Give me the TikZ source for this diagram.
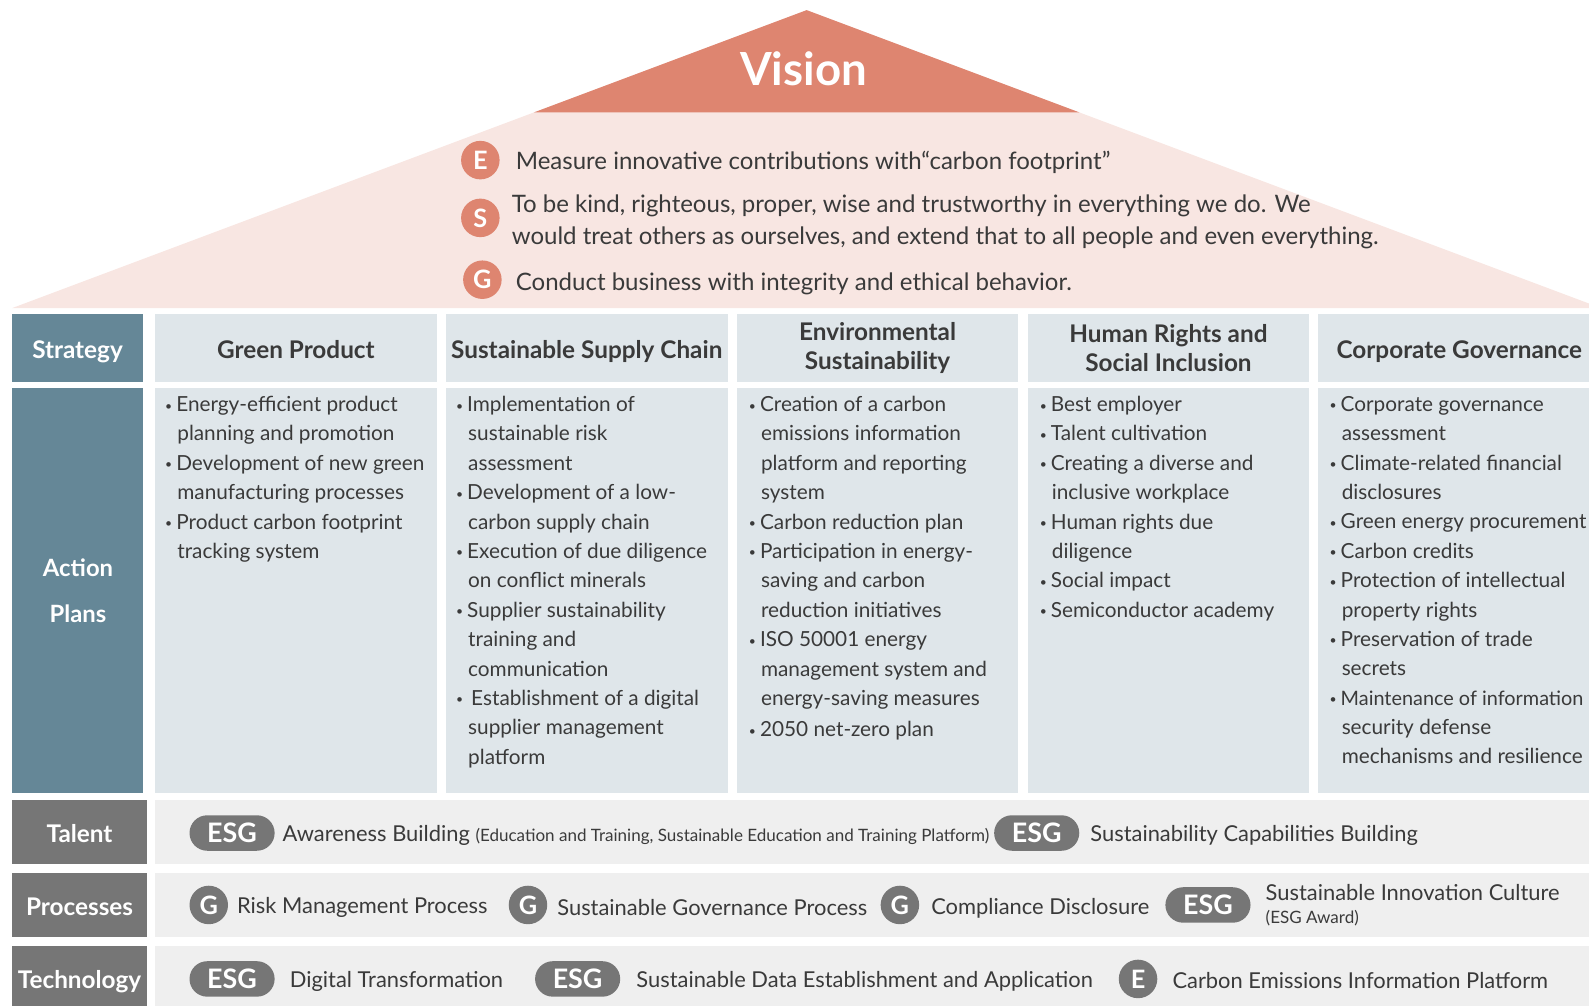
\documentclass[tikz,border=0pt]{standalone}
\usepackage{fontspec}
\setmainfont{Lato}
\definecolor{salmon}{HTML}{DE8570}
\definecolor{blush}{HTML}{F8E6E2}
\definecolor{slate}{HTML}{658797}
\definecolor{mist}{HTML}{DFE6EA}
\definecolor{ash}{HTML}{767676}
\definecolor{band}{HTML}{EFEFEF}
\definecolor{ink}{HTML}{3A3A3A}
\newcommand\bu{\makebox[11pt][l]{\raisebox{1.5pt}{\fontsize{12}{12}\selectfont\textbullet}}}
\newcommand\hi{\hspace*{12pt}}
\newcommand\notefont{\fontsize{16.8}{19}\selectfont}
\begin{document}
\begin{tikzpicture}[x=1pt,y=-1pt,
  every node/.style={inner sep=0pt, outer sep=0pt},
  labelbox/.style={anchor=north west, text=white, align=center,
    text height=20pt, text depth=0pt,
    font=\bfseries\fontsize{24}{28}\selectfont},
  headbox/.style={anchor=north west, fill=mist, minimum width=278, minimum height=67,
    text=ink, align=center, font=\bfseries\fontsize{24}{28}\selectfont},
  oneline/.style={text height=20pt, text depth=0pt},
  planbox/.style={anchor=north west, fill=mist, minimum width=278, minimum height=400},
  plantext/.style={anchor=north west, align=left, text=ink,
    font=\fontsize{20.5}{29}\selectfont},
  bandbox/.style={anchor=north west, fill=band, minimum width=1430},
  visiontext/.style={anchor=west, align=left, text=ink, font=\fontsize{23.7}{32}\selectfont},
  vcirc/.style={circle, fill=salmon, text=white, minimum size=38,
    font=\bfseries\fontsize{25}{25}\selectfont},
  gcirc/.style={circle, fill=ash, text=white, minimum size=38,
    font=\bfseries\fontsize{25}{25}\selectfont},
  pill/.style={fill=ash, text=white, rounded corners=17.5, minimum width=84,
    minimum height=35, font=\bfseries\fontsize{26.5}{26.5}\selectfont},
  rowtext/.style={anchor=west, text=ink, font=\fontsize{21.6}{25}\selectfont}
]
\useasboundingbox (0,0) rectangle (1568,992);
\clip (0,0) rectangle (1568,992);

% roof
\fill[blush] (796,10) -- (1580,304) -- (12,304) -- cycle;
\fill[salmon] (796,10) -- (1065.3,111) -- (526.7,111) -- cycle;
\node[text=white, font=\bfseries\fontsize{45}{45}\selectfont] (vision) at (793,68) {Vision};

\node[vcirc] (ce) at (474,158) {E};
\node[visiontext] (te) at (509,160) {Measure innovative contributions with“carbon footprint”};
\node[vcirc] (cs) at (474,215) {S};
\node[visiontext] (ts) at (505,219) {To be kind, righteous, proper, wise and trustworthy in everything we do. We\\
would treat others as ourselves, and extend that to all people and even everything.};
\node[vcirc] (cg) at (476,276) {G};
\node[visiontext] (tg) at (509,280) {Conduct business with integrity and ethical behavior.};

% strategy row
\node[labelbox, fill=slate, minimum width=129, minimum height=67] (strategy) at (12,310) {Strategy};
\node[headbox, oneline] (h1) at (153,310) {Green Product};
\node[headbox, oneline] (h2) at (440,310) {Sustainable Supply Chain};
\node[headbox] (h3) at (727,310) {Environmental\\Sustainability};
\node[headbox] (h4) at (1014,310) {Human Rights and\\Social Inclusion};
\node[headbox, oneline] (h5) at (1301,310) {Corporate Governance};

% action plans row
\node[labelbox, fill=slate, minimum width=129, minimum height=400] (actbox) at (12,383) {};
\node[text=white, align=center, font=\bfseries\fontsize{23.5}{45}\selectfont] (actlabel) at (77,583) {Action\\Plans};
\node[planbox] (a1) at (153,383) {};
\node[planbox] (a2) at (440,383) {};
\node[planbox] (a3) at (727,383) {};
\node[planbox] (a4) at (1014,383) {};
\node[planbox] (a5) at (1301,383) {};

\node[plantext] (p1) at (163,391) {\bu Energy-efficient product\\ \hi planning and promotion\\
\bu Development of new green\\ \hi manufacturing processes\\
\bu Product carbon footprint\\ \hi tracking system};
\node[plantext] (p2) at (450,391) {\bu Implementation of\\ \hi sustainable risk\\ \hi assessment\\
\bu Development of a low-\\ \hi carbon supply chain\\
\bu Execution of due diligence\\ \hi on conflict minerals\\
\bu Supplier sustainability\\ \hi training and\\ \hi communication\\
\bu\hspace*{4pt}Establishment of a digital\\ \hi supplier management\\ \hi platform};
\node[plantext] (p3) at (739,391) {\bu Creation of a carbon\\ \hi emissions information\\ \hi platform and reporting\\ \hi system\\
\bu Carbon reduction plan\\
\bu Participation in energy-\\ \hi saving and carbon\\ \hi reduction initiatives\\
\bu ISO 50001 energy\\ \hi management system and\\ \hi energy-saving measures\\[2pt]
\bu 2050 net-zero plan};
\node[plantext] (p4) at (1026,391) {\bu Best employer\\
\bu Talent cultivation\\
\bu Creating a diverse and\\ \hi inclusive workplace\\
\bu Human rights due\\ \hi diligence\\
\bu Social impact\\
\bu Semiconductor academy};
\node[plantext] (p5) at (1312,391) {\bu Corporate governance\\ \hi assessment\\
\bu Climate-related financial\\ \hi disclosures\\
\bu Green energy procurement\\
\bu Carbon credits\\
\bu Protection of intellectual\\ \hi property rights\\
\bu Preservation of trade\\ \hi secrets\\
\bu {\fontsize{19.6}{29}\selectfont Maintenance of information}\\ \hi security defense\\ \hi mechanisms and resilience};

% talent row
\node[labelbox, fill=ash, minimum width=133, minimum height=64] (talent) at (12,789) {Talent};
\node[bandbox, minimum height=64] (tband) at (153,789) {};
\node[pill] (t1) at (229,822) {ESG};
\node[rowtext] (t1txt) at (279,824) {Awareness Building {\notefont (Education and Training, Sustainable Education and Training Platform)}};
\node[pill] (t2) at (1023,822) {ESG};
\node[rowtext] (t2txt) at (1076,824) {Sustainability Capabilities Building};

% processes row
\node[labelbox, fill=ash, minimum width=133, minimum height=64] (processes) at (12,861) {Processes};
\node[bandbox, minimum height=64] (pband) at (153,861) {};
\node[gcirc] (g1) at (206,893) {G};
\node[rowtext] (g1txt) at (234,895) {Risk Management Process};
\node[gcirc] (g2) at (521,893) {G};
\node[rowtext] (g2txt) at (550,896) {Sustainable Governance Process};
\node[gcirc] (g3) at (888,893) {G};
\node[rowtext] (g3txt) at (919,896) {Compliance Disclosure};
\node[pill] (g4) at (1192,893) {ESG};
\node[rowtext, align=left, font=\fontsize{21.6}{23}\selectfont] (g4txt) at (1249,893) {Sustainable Innovation Culture\\{\notefont (ESG Award)}};

% technology row
\node[labelbox, fill=ash, minimum width=133, minimum height=64] (technology) at (12,933) {Technology};
\node[bandbox, minimum height=64] (xband) at (153,933) {};
\node[pill] (x1) at (229,966) {ESG};
\node[rowtext] (x1txt) at (286,968) {Digital Transformation};
\node[pill] (x2) at (570,966) {ESG};
\node[rowtext] (x2txt) at (628,968) {Sustainable Data Establishment and Application};
\node[gcirc] (x3) at (1123,966) {E};
\node[rowtext] (x3txt) at (1157,968) {Carbon Emissions Information Platform};
\end{tikzpicture}
\end{document}
